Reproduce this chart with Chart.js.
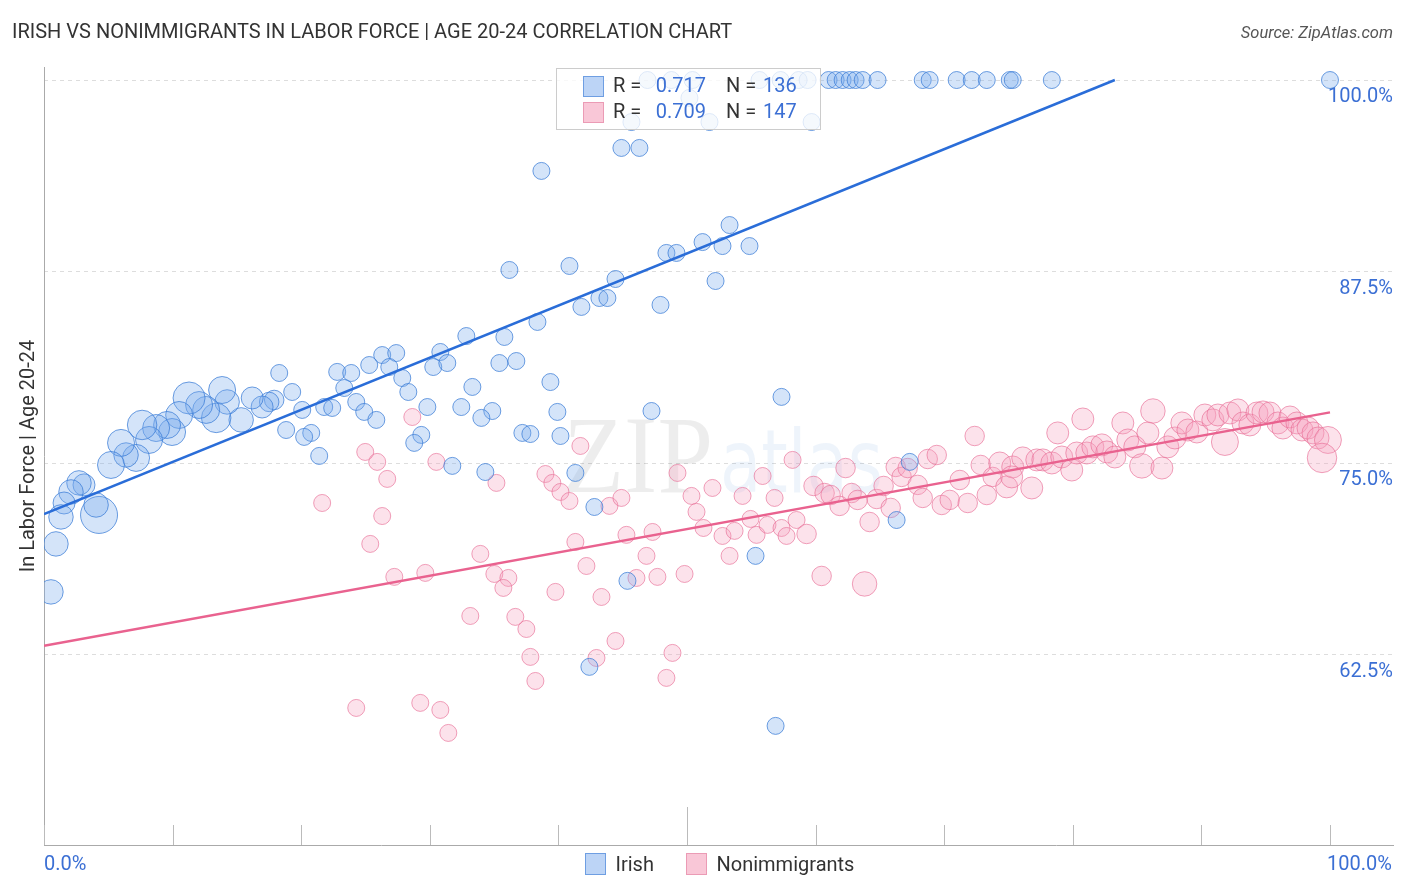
<!DOCTYPE html>
<html><head><meta charset="utf-8">
<script src="https://cdn.jsdelivr.net/npm/chart.js@4"></script>
<style>html,body{margin:0;padding:0;background:#fff}#wrap{width:1406px;height:892px;position:relative}</style>
</head><body><div id="wrap"><canvas id="c" width="1406" height="892"></canvas></div>
<script>
// ---------- DATA (percent values) ----------
const chartTitle = 'IRISH VS NONIMMIGRANTS IN LABOR FORCE | AGE 20-24 CORRELATION CHART';
const sourceText = 'Source: ZipAtlas.com';
const yAxisTitle = 'In Labor Force | Age 20-24';
const seriesNames = ['Irish', 'Nonimmigrants'];
const seriesR = ['0.717', '0.709'];
const seriesN = ['136', '147'];
const yTicks = [62.5, 75, 87.5, 100];
const yTickLabels = ['62.5%', '75.0%', '87.5%', '100.0%'];
const xTicks = [0, 10, 20, 30, 40, 50, 60, 70, 80, 90, 100];
const xEndLabels = ['0.0%', '100.0%'];

const irishXY = [
[46.93,100],[48.79,100],[50.43,100],[55.64,100],[57.28,100],[58.68,100],[59.38,100],[61.01,100],[61.56,100],[62.10,100],[62.65,100],[63.11,100],[63.66,100],[64.82,100],[68.33,100],[68.87,100],[70.97,100],[72.14,100],[73.31,100],[75.10,100],[75.33,100],[78.37,100],[100,100],
[50.19,98.83],[45.68,97.26],[51.75,97.26],[59.69,97.26],[44.90,95.57],[46.30,95.57],[38.68,94.07],
[36.19,87.61],[40.86,87.87],[53.31,90.54],[51.21,89.43],[48.40,88.72],[49.18,88.72],[52.76,89.17],[54.86,89.17],[44.44,87.02],[52.22,86.89],
[43.19,85.78],[43.81,85.78],[41.79,85.20],[47.94,85.33],[38.37,84.22],[32.84,83.30],[35.80,83.24],[30.82,82.26],[30.27,81.28],[31.36,81.54],
[35.41,81.54],[36.73,81.67],[26.30,82.06],[27.39,82.19],[25.29,81.41],[26.85,81.28],[22.80,80.96],[23.89,80.89],[39.38,80.30],[33.31,79.98],
[27.86,80.56],[23.35,79.91],[28.33,79.65],[19.30,79.65],[57.35,79.33],[47.24,78.41],[39.92,78.35],[29.81,78.67],[32.45,78.67],[34.86,78.41],
[34.01,77.96],[24.28,79.00],[24.90,78.35],[25.84,77.83],[21.79,78.67],[22.41,78.61],[20.08,78.48],
[18.29,80.89],[17.90,79.13],[17.51,79.00],[16.96,78.67],[16.19,79.26],[15.33,77.83],[14.24,79.00],[13.85,79.78],[13.39,77.96],[12.61,78.48],
[12.06,78.80],[11.28,79.26],[10.51,78.15],[9.96,77.04],[9.57,77.50],[8.72,77.30],[8.17,76.52],[7.63,77.50],[7.16,75.35],[6.38,75.54],
[5.99,76.33],[5.21,74.89],[4.28,71.63],[4.05,72.28],[3.11,73.59],[2.72,73.72],[2.10,73.13],[1.56,72.41],[1.32,71.50],[0.93,69.74],
[0.54,66.61],
[29.34,76.85],[28.79,76.33],[37.20,76.98],[37.82,76.91],[40.16,76.78],[18.83,77.17],[20.78,76.98],[20.23,76.72],[21.40,75.48],[31.75,74.83],
[34.32,74.43],[41.32,74.37],[42.80,72.15],[45.37,67.33],[42.41,61.72],[56.89,57.87],[55.33,68.96],[67.32,75.09],[66.30,71.30]
];
// relative sample weight of each Irish point
const irishPop = [
1,1,1,1,1,1,1,1,1,1,1,1,1,1,1,1,1,1,1,1,1,1,1,
1,1,1,1,1,1,1,
1,1,1,1,1,1,1,1,1,1,
1,1,1,1,1,1,1,1,1,1,
1,1,1,1,1,1,1,1,1,1,
1,1,1,1,1,1,1,1,1,1,
1,1,1,1,1,1,1,
1,1.5,1.5,2,2,2.5,2.5,3,3.5,3,
3,4,3,3,3,3,3,3.5,3,2.5,
3,3,5,2.5,2,2.5,2.5,2,2.5,2.5,
2.5,
1,1,1,1,1,1,1,1,1,1,
1,1,1,1,1,1,1,1,1
];

const nonXY = [
[28.64,78.02],[24.98,75.74],[25.91,75.09],[26.69,73.98],[30.51,75.09],[21.63,72.41],[26.30,71.56],[25.37,69.74],[35.18,73.72],[38.99,74.30],
[39.53,73.72],[40.16,73.13],[40.86,72.54],[41.71,76.13],[43.97,72.22],[44.90,72.74],[49.26,74.37],[50.35,72.87],[51.98,73.39],[54.32,72.87],
[55.88,74.17],[56.81,72.74],[58.21,75.22],[50.74,71.83],[51.28,70.78],[52.76,70.26],[53.70,70.59],[54.94,71.37],[55.41,70.33],[56.26,70.98],
[57.35,70.78],[57.74,70.26],[58.52,71.30],[53.31,68.96],[45.29,70.33],[47.32,70.52],[41.32,69.87],[46.85,68.96],[42.18,68.30],[46.07,67.52],
[47.70,67.59],[49.81,67.78],[33.93,69.09],[27.24,67.59],[29.65,67.85],[35.02,67.78],[36.11,67.52],[35.72,66.87],[39.77,66.61],[43.35,66.28],
[33.15,65.04],[36.65,64.98],[37.51,64.19],[44.44,63.41],[42.96,62.30],[48.87,62.63],[37.82,62.37],[38.21,60.80],[48.40,61.00],[24.28,59.04],
[29.26,59.37],[30.82,58.91],[31.44,57.41],
[59.30,70.39],[59.84,73.52],[60.70,73.06],[61.17,72.93],[61.87,72.22],[62.33,74.69],[62.80,73.06],[63.27,72.61],[64.20,71.17],[64.75,72.67],
[65.29,73.52],[65.84,72.09],[66.23,74.76],[66.69,74.11],[67.16,74.69],[67.94,73.59],[68.33,72.74],[68.72,75.28],[69.42,75.54],[69.81,72.28],
[70.43,72.61],[71.21,73.91],[71.83,72.41],[72.84,74.89],[73.31,72.93],[73.77,74.11],[72.37,76.78],[60.47,67.65],[63.81,67.13],
[74.32,75.02],[74.86,73.46],[75.33,74.76],[76.11,75.35],[76.81,73.39],[77.20,75.22],[77.67,75.22],[78.37,75.02],[78.83,76.98],[79.14,75.41],
[79.92,74.56],[80.31,75.67],[80.78,77.89],[81.09,75.67],[81.56,76.07],[82.26,76.20],[82.65,75.74],[83.27,75.41],[83.89,77.63],[84.28,76.52],
[84.82,76.07],[85.37,74.83],[85.84,76.98],[86.23,78.41],[86.93,74.69],[87.39,76.07],[87.94,76.65],[88.48,77.63],[88.95,77.17],[89.65,77.04],
[90.27,78.15],[90.89,77.83],[91.28,78.15],[91.83,76.39],[92.22,78.28],[92.84,78.48],[93.23,77.63],[93.77,77.50],[94.32,78.28],[94.79,78.35],
[95.33,78.28],[95.95,77.63],[96.34,77.30],[96.89,78.02],[97.43,77.63],[97.82,77.17],[98.29,77.30],[98.68,76.98],[99.07,76.65],[99.84,76.52],
[99.38,75.35],[75.25,74.11]
];
// relative sample weight of each Nonimmigrants point
const nonPop = [
1,1,1,1,1,1,1,1,1,1,
1,1,1,1,1,1,1,1,1,1,
1,1,1,1,1,1,1,1,1,1,
1,1,1,1,1,1,1,1,1,1,
1,1,1,1,1,1,1,1,1,1,
1,1,1,1,1,1,1,1,1,1,
1,1,1,
1.5,1.5,1.5,1.5,1.5,1.5,1.5,1.5,1.5,1.5,
1.5,1.5,1.5,1.5,1.5,1.5,1.5,1.5,1.5,1.5,
1.5,1.5,1.5,1.5,1.5,1.5,1.5,1.5,2.5,
2,2,2,2,2,2,2,2,2,2,
2,2,2,2,2,2,2,2,2,2,
2,2.5,2,2.5,2,2,2,2,2,2,
2,2,2,3,2,2,2,2,2,2,
2,2,2,2,2,2,2,2,2,3,
3.5,2
];

const irishTrend = [[0, 71.68], [83.27, 100]];
const nonTrend = [[0, 63.09], [100, 78.32]];

// ---------- STYLE ----------
const BLUE = '#3b6fd4';
const DARK = '#333333';
const FONT = 'Roboto, "Open Sans", sans-serif';
const radiusOf = w => 6 + 2.5 * w;
const legendFill = ['#bcd4f6', '#f9c7d7'];
const legendStroke = ['#6e9ee2', '#eb9bb5'];

const decor = {
  id: 'decor',
  beforeDatasetsDraw(chart) {
    const ctx = chart.ctx;
    const fit = (txt, font, x, base, width, color) => {
      ctx.save();
      ctx.font = font;
      const w = ctx.measureText(txt).width;
      ctx.translate(x, base);
      ctx.scale(width / w, 1);
      ctx.fillStyle = color;
      ctx.textBaseline = 'alphabetic';
      ctx.textAlign = 'left';
      ctx.fillText(txt, 0, 0);
      ctx.restore();
    };
    fit('ZIP', '110px "Liberation Serif"', 563, 492, 150, 'rgba(0,0,0,0.07)');
    fit('atlas', '88px "DejaVu Sans"', 720, 492, 163, 'rgba(70,130,215,0.09)');
  },
  afterDatasetsDraw(chart) {
    const ctx = chart.ctx;
    ctx.save();
    // stats box
    ctx.fillStyle = 'rgba(255,255,255,0.78)';
    ctx.fillRect(556.5, 68.5, 264, 61);
    ctx.strokeStyle = '#cccccc';
    ctx.lineWidth = 1;
    ctx.strokeRect(556.5, 68.5, 264, 61);
    for (let i = 0; i < 2; i++) {
      const cy = 87 + i * 26;
      ctx.fillStyle = legendFill[i];
      ctx.fillRect(583.5, cy - 10.5, 20, 20);
      ctx.strokeStyle = legendStroke[i];
      ctx.strokeRect(583.5, cy - 10.5, 20, 20);
      ctx.font = '20px ' + FONT;
      ctx.textBaseline = 'middle';
      ctx.textAlign = 'left';
      ctx.fillStyle = DARK;
      ctx.fillText('R = ', 613, cy);
      ctx.fillText('N = ', 726, cy);
      ctx.fillStyle = BLUE;
      ctx.textAlign = 'right';
      ctx.fillText(seriesR[i], 706, cy);
      ctx.textAlign = 'left';
      ctx.fillText(seriesN[i], 763, cy);
    }
    ctx.restore();
  },
  afterDraw(chart) {
    const ctx = chart.ctx;
    const xs = chart.scales.x;
    const bottom = chart.chartArea.bottom;
    ctx.save();
    ctx.strokeStyle = '#bbbbbb';
    ctx.lineWidth = 1;
    xTicks.forEach(v => {
      const px = Math.round(xs.getPixelForValue(v)) + 0.5;
      ctx.beginPath();
      ctx.moveTo(px, bottom);
      ctx.lineTo(px, bottom - (v === 50 ? 38 : 20));
      ctx.stroke();
    });
    ctx.font = '20px ' + FONT;
    ctx.fillStyle = BLUE;
    ctx.textBaseline = 'middle';
    ctx.textAlign = 'left';
    ctx.fillText(xEndLabels[0], xs.getPixelForValue(0), 865);
    ctx.fillText(xEndLabels[1], xs.getPixelForValue(100) - 3, 865);
    // bottom legend
    const lx = [585.5, 686.5];
    for (let i = 0; i < 2; i++) {
      ctx.fillStyle = legendFill[i];
      ctx.fillRect(lx[i], 853.5, 20, 21);
      ctx.strokeStyle = legendStroke[i];
      ctx.strokeRect(lx[i], 853.5, 20, 21);
      ctx.fillStyle = DARK;
      ctx.fillText(chart.data.datasets[2 + i].label, lx[i] + 30, 866);
    }
    ctx.font = 'italic 16.5px ' + FONT;
    ctx.fillStyle = '#555555';
    ctx.textAlign = 'right';
    ctx.fillText(sourceText, chart.chartArea.right, 34);
    ctx.restore();
  }
};

const toXY = arr => arr.map(p => ({ x: p[0], y: p[1] }));

new Chart(document.getElementById('c'), {
  type: 'bubble',
  data: {
    datasets: [
      { type: 'line', label: 'Irish trend', data: toXY(irishTrend), borderColor: '#2a6dd8', borderWidth: 2.5,
        pointRadius: 0, fill: false, order: 0, yAxisID: 'y' },
      { type: 'line', label: 'Nonimmigrants trend', data: toXY(nonTrend), borderColor: '#e9628f', borderWidth: 2.5,
        pointRadius: 0, fill: false, order: 0, yAxisID: 'y' },
      { label: seriesNames[0], data: irishXY.map((p, i) => ({ x: p[0], y: p[1], r: radiusOf(irishPop[i]) })),
        backgroundColor: 'rgba(120,170,235,0.32)', borderColor: 'rgba(60,125,215,0.75)', borderWidth: 1, order: 1, yAxisID: 'y' },
      { label: seriesNames[1], data: nonXY.map((p, i) => ({ x: p[0], y: p[1], r: radiusOf(nonPop[i]) })),
        backgroundColor: 'rgba(245,160,190,0.30)', borderColor: 'rgba(232,110,150,0.65)', borderWidth: 1, order: 1, yAxisID: 'y' }
    ]
  },
  options: {
    responsive: false,
    animation: false,
    layout: { autoPadding: false, padding: { left: 12, right: 13, top: 0, bottom: 39 } },
    scales: {
      x: {
        type: 'linear', min: 0, max: 104.9,
        afterBuildTicks: s => { s.ticks = xTicks.map(v => ({ value: v })); },
        ticks: { display: false },
        grid: { display: false },
        border: { display: true, color: '#aaaaaa', width: 1 }
      },
      y: {
        type: 'linear', position: 'right', min: 50.1, max: 100.85,
        afterBuildTicks: s => { s.ticks = yTicks.map(v => ({ value: v })); },
        ticks: {
          mirror: true, padding: 0, labelOffset: 17,
          color: BLUE, font: { size: 20, family: FONT },
          callback: (v) => yTickLabels[yTicks.indexOf(v)]
        },
        grid: { color: '#dddddd', drawTicks: false, lineWidth: 1 },
        border: { display: false, dash: [4, 4] }
      },
      yL: {
        type: 'linear', position: 'left', min: 50.1, max: 100.85,
        ticks: { display: false },
        grid: { display: false, drawTicks: false },
        border: { display: true, color: '#aaaaaa', width: 1 },
        title: { display: true, text: yAxisTitle, color: DARK, font: { size: 20, family: FONT }, padding: { top: 5, bottom: 3 } }
      }
    },
    plugins: {
      tooltip: { enabled: false },
      legend: { display: false },
      title: {
        display: true, text: chartTitle, align: 'start', color: DARK,
        font: { size: 20, family: FONT, weight: 'normal' },
        padding: { top: 21, bottom: 22 }
      }
    }
  },
  plugins: [decor]
});
</script>
</body></html>
